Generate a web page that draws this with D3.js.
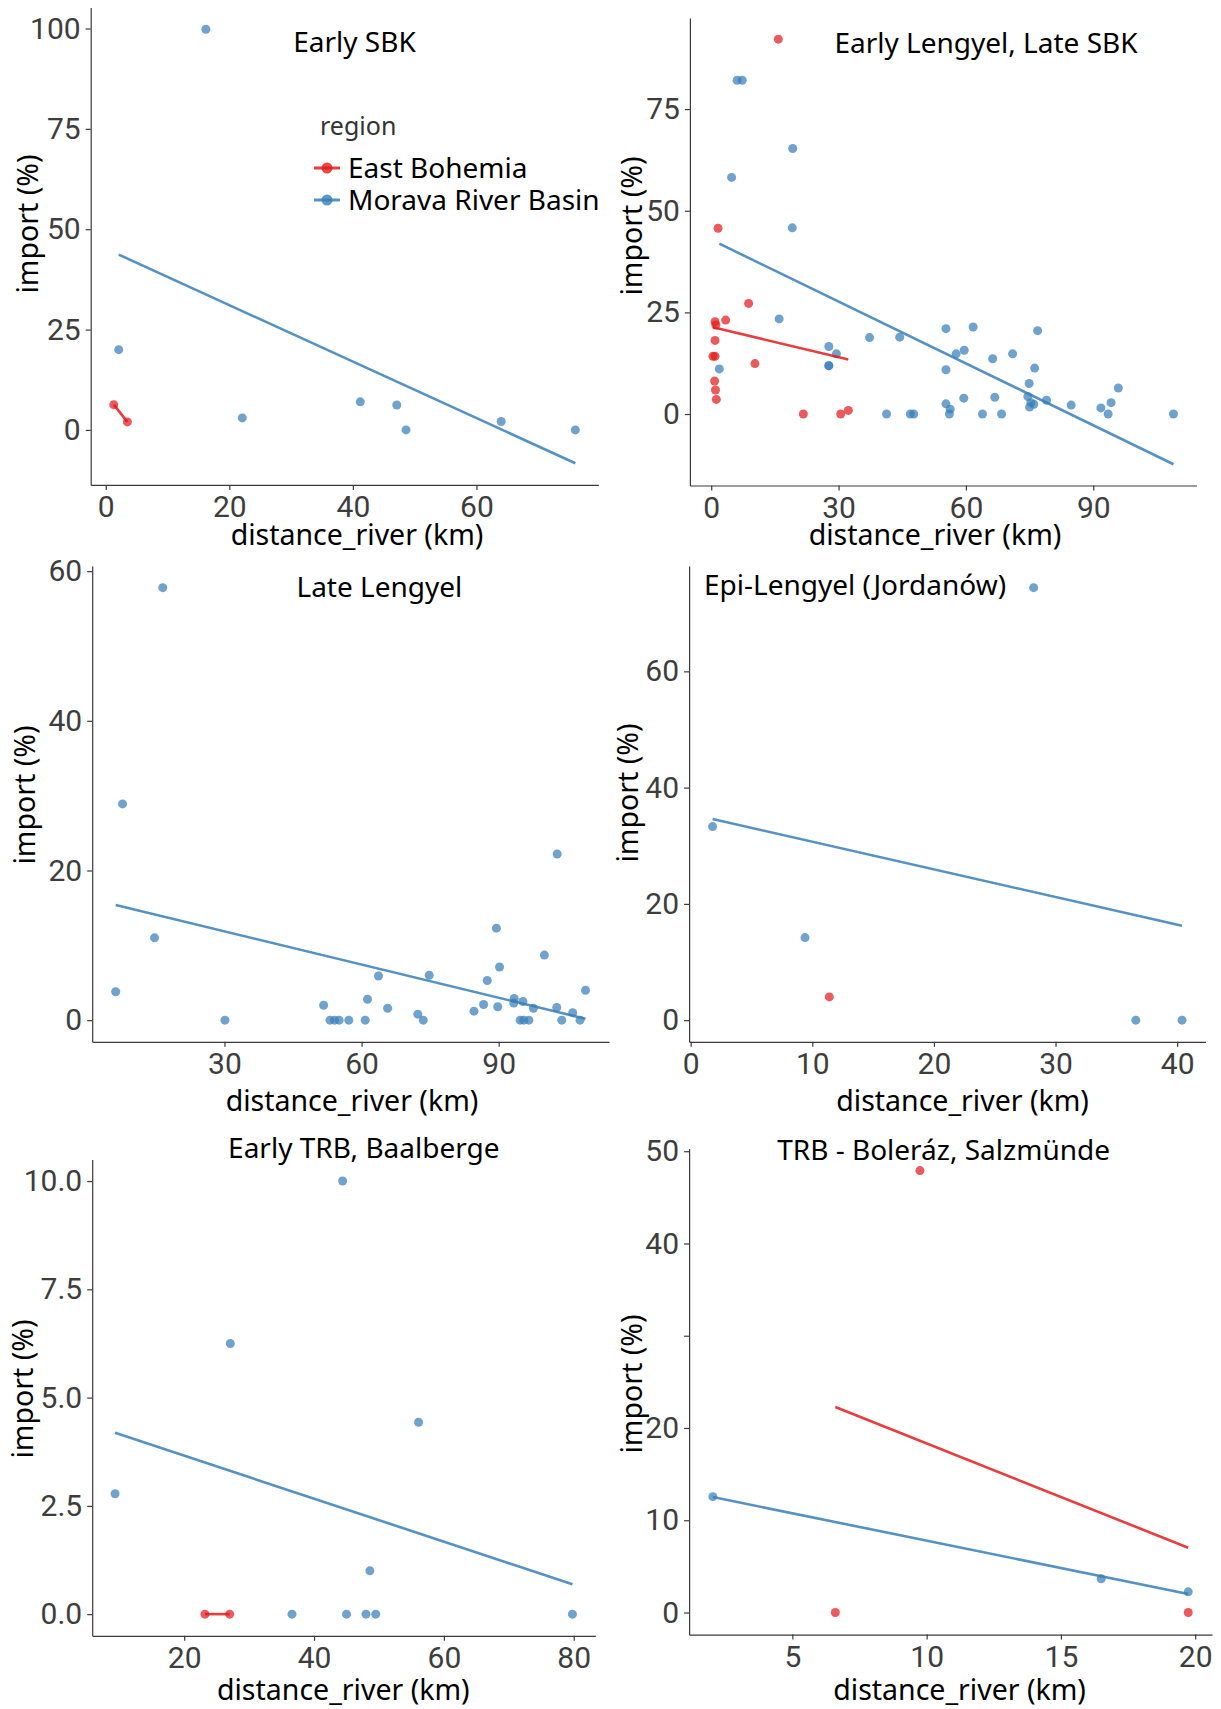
<!DOCTYPE html>
<html>
<head>
<meta charset="utf-8">
<script src="https://cdn.jsdelivr.net/npm/d3@7"></script>
<style>
  body { margin: 0; background: #fff; }
  svg { display: block; }
</style>
</head>
<body>
<div id="chart"></div>
<script>
const regions = ["East Bohemia", "Morava River Basin"];
const regionColors = ["#e41a1c", "#377eb8"];

const panelTitles = [
  "Early SBK",
  "Early Lengyel, Late SBK",
  "Late Lengyel",
  "Epi-Lengyel (Jordanów)",
  "Early TRB, Baalberge",
  "TRB - Boleráz, Salzmünde"
];

// points as [distance_river (km), import (%)]
const earlySBK_east = [[1.3, 6.3], [3.5, 2.0]];
const earlySBK_morava = [[16.2, 99.8], [2.1, 20.0], [22.1, 3.0], [41.2, 7.0], [47.1, 6.2], [48.6, 0], [64.0, 2.1], [76.0, 0]];

const earlyLengyel_east = [[15.8, 92.2], [1.6, 45.7], [8.8, 27.2], [3.4, 23.1], [0.9, 22.7], [1.1, 21.9], [0.9, 18.1],
  [0.4, 14.2], [0.9, 14.2], [10.3, 12.4], [0.8, 8.1], [1.0, 5.9], [1.2, 3.6], [21.7, 0], [30.5, 0], [32.3, 0.9]];
const earlyLengyel_morava = [[6.1, 82.1], [7.3, 82.1], [19.2, 65.3], [4.8, 58.2], [19.1, 45.8], [16.0, 23.4], [1.9, 11.1],
  [27.7, 16.6], [29.5, 14.8], [27.7, 11.9], [27.7, 11.9], [37.3, 18.8], [44.4, 18.9], [41.3, 0], [46.9, 0], [47.7, 0],
  [55.3, 21.0], [61.7, 21.4], [76.9, 20.5], [57.7, 14.8], [59.6, 15.7], [71.0, 14.8], [66.3, 13.6], [55.3, 10.9],
  [76.2, 11.3], [74.9, 7.5], [95.9, 6.4], [55.3, 2.5], [56.3, 1.2], [56.1, 0], [59.5, 3.9], [63.9, 0], [66.8, 4.1],
  [68.4, 0], [74.6, 4.3], [75.3, 2.8], [75.0, 1.7], [76.0, 2.4], [79.0, 3.4], [84.8, 2.2], [91.8, 1.5], [93.5, 0],
  [94.2, 2.8], [108.9, 0]];

const lateLengyel_east = [];
const lateLengyel_morava = [[16.5, 57.8], [7.7, 28.9], [14.7, 11.0], [6.2, 3.8], [30.1, 0], [51.7, 2.0], [53.1, 0],
  [54.1, 0], [55.1, 0], [57.2, 0], [60.8, 0], [61.3, 2.8], [63.7, 5.9], [65.7, 1.6], [72.3, 0.8], [73.5, 0],
  [74.8, 6.0], [84.6, 1.2], [86.7, 2.1], [87.5, 5.3], [89.5, 12.3], [90.2, 7.1], [89.8, 1.8], [93.4, 2.9],
  [93.3, 2.3], [95.3, 2.5], [94.7, 0], [95.5, 0], [96.6, 0], [97.6, 1.6], [100.0, 8.7], [102.7, 1.7], [102.8, 22.2],
  [103.8, 0], [106.2, 1.0], [107.8, 0], [109.0, 4.0]];

const epiLengyel_east = [[11.4, 4.0]];
const epiLengyel_morava = [[28.2, 74.4], [1.8, 33.3], [9.4, 14.2], [36.6, 0], [40.4, 0]];

const earlyTRB_east = [[23.2, 0], [27.0, 0]];
const earlyTRB_morava = [[44.4, 10.0], [27.1, 6.25], [9.35, 2.78], [56.1, 4.43], [48.6, 1.0], [36.6, 0], [45.0, 0],
  [48.0, 0], [49.5, 0], [79.8, 0]];

const trbBoleraz_east = [[6.6, 0], [9.75, 47.9], [19.74, 0]];
const trbBoleraz_morava = [[2.04, 12.56], [16.5, 3.66], [19.74, 2.24]];

const xTicks = [[0, 20, 40, 60], [0, 30, 60, 90], [30, 60, 90], [0, 10, 20, 30, 40], [20, 40, 60, 80], [5, 10, 15, 20]];
const yTicks = [[0, 25, 50, 75, 100], [0, 25, 50, 75], [0, 20, 40, 60], [0, 20, 40, 60], [0, 2.5, 5, 7.5, 10], [0, 10, 20, 30, 40, 50]];
const yTickLabels = [
  ["0", "25", "50", "75", "100"],
  ["0", "25", "50", "75"],
  ["0", "20", "40", "60"],
  ["0", "20", "40", "60"],
  ["0.0", "2.5", "5.0", "7.5", "10.0"],
  ["0", "10", "20", "", "40", "50"]
];

const panelData = [
  [earlySBK_east, earlySBK_morava],
  [earlyLengyel_east, earlyLengyel_morava],
  [lateLengyel_east, lateLengyel_morava],
  [epiLengyel_east, epiLengyel_morava],
  [earlyTRB_east, earlyTRB_morava],
  [trbBoleraz_east, trbBoleraz_morava]
];

// panel frames and label positions on the page
const frames = [
  { left: 90.7, right: 598.4, top: 7.6, bottom: 484.9, titleX: 354.5, titleY: 52, xLabX: 357, xLabY: 535, yLabX: 28, yLabY: 224 },
  { left: 689.9, right: 1196.5, top: 17.9, bottom: 485.5, titleX: 986, titleY: 53, xLabX: 935, xLabY: 535, yLabX: 632, yLabY: 226 },
  { left: 92.2, right: 609, top: 566, bottom: 1041.8, titleX: 379.4, titleY: 597, xLabX: 352, xLabY: 1101, yLabX: 25, yLabY: 795 },
  { left: 689.1, right: 1205.5, top: 566, bottom: 1041.8, titleX: 855, titleY: 594.6, xLabX: 962.6, xLabY: 1101, yLabX: 628, yLabY: 793 },
  { left: 92.2, right: 595.3, top: 1159.4, bottom: 1635.8, titleX: 363.8, titleY: 1158, xLabX: 343.3, xLabY: 1690, yLabX: 23, yLabY: 1389 },
  { left: 689.1, right: 1212, top: 1148.5, bottom: 1634.6, titleX: 943.6, titleY: 1159.5, xLabX: 959.6, xLabY: 1690, yLabX: 632, yLabY: 1384 }
];

const textFont = "'Noto Sans', 'Open Sans', sans-serif";
const tickFont = "Roboto, 'Liberation Sans', sans-serif";

// least squares line, like geom_smooth(method = "lm", se = FALSE)
function linearFit(pts) {
  if (pts.length < 2) return null;
  const mx = d3.mean(pts, function(p) { return p[0]; });
  const my = d3.mean(pts, function(p) { return p[1]; });
  let sxx = 0, sxy = 0;
  pts.forEach(function(p) {
    sxx += (p[0] - mx) * (p[0] - mx);
    sxy += (p[0] - mx) * (p[1] - my);
  });
  const slope = sxx === 0 ? 0 : sxy / sxx;
  const ext = d3.extent(pts, function(p) { return p[0]; });
  return ext.map(function(x) { return [x, my + slope * (x - mx)]; });
}

function expand(ext) {
  const pad = (ext[1] - ext[0]) * 0.05;
  return [ext[0] - pad, ext[1] + pad];
}

const svg = d3.select("#chart")
  .append("svg")
  .attr("width", 1221)
  .attr("height", 1709);

panelData.forEach(function(groups, i) {
  const f = frames[i];
  const fits = groups.map(linearFit);

  const allPts = [].concat.apply([], groups);
  fits.forEach(function(fl) { if (fl) allPts.push(fl[0], fl[1]); });

  const x = d3.scaleLinear()
    .domain(expand(d3.extent(allPts, function(p) { return p[0]; })))
    .range([f.left, f.right]);
  const y = d3.scaleLinear()
    .domain(expand(d3.extent(allPts, function(p) { return p[1]; })))
    .range([f.bottom, f.top]);

  const g = svg.append("g");

  const xAxis = d3.axisBottom(x)
    .tickValues(xTicks[i])
    .tickSize(5)
    .tickSizeOuter(0)
    .tickPadding(6)
    .tickFormat(d3.format("d"));
  const yAxis = d3.axisLeft(y)
    .tickValues(yTicks[i])
    .tickSize(5)
    .tickSizeOuter(0)
    .tickPadding(5)
    .tickFormat(function(d, j) { return yTickLabels[i][j]; });

  const gx = g.append("g")
    .attr("transform", "translate(0," + f.bottom + ")")
    .call(xAxis);
  const gy = g.append("g")
    .attr("transform", "translate(" + f.left + ",0)")
    .call(yAxis);

  [gx, gy].forEach(function(ax) {
    ax.select(".domain").attr("stroke", "#3a3a3a").attr("stroke-width", 1.2);
    ax.selectAll(".tick line").attr("stroke", "#3a3a3a").attr("stroke-width", 1.2);
    ax.selectAll(".tick text")
      .attr("fill", "#3d3d3d")
      .style("font-family", tickFont)
      .style("font-size", "30px");
  });

  // points
  groups.forEach(function(pts, r) {
    g.append("g")
      .selectAll("circle")
      .data(pts)
      .enter()
      .append("circle")
      .attr("cx", function(d) { return x(d[0]); })
      .attr("cy", function(d) { return y(d[1]); })
      .attr("r", 4.5)
      .style("fill", regionColors[r])
      .style("fill-opacity", 0.72);
  });

  // fitted lines
  const line = d3.line()
    .x(function(d) { return x(d[0]); })
    .y(function(d) { return y(d[1]); });
  fits.forEach(function(fl, r) {
    if (!fl) return;
    g.append("path")
      .attr("d", line(fl))
      .attr("fill", "none")
      .attr("stroke", regionColors[r])
      .attr("stroke-opacity", 0.85)
      .attr("stroke-width", 2.6);
  });

  g.append("text")
    .attr("x", f.titleX)
    .attr("y", f.titleY)
    .style("text-anchor", "middle")
    .style("font-family", textFont)
    .style("font-size", "28px")
    .style("fill", "#000")
    .text(panelTitles[i]);

  g.append("text")
    .attr("x", f.xLabX)
    .attr("y", f.xLabY)
    .attr("dy", "0.35em")
    .style("text-anchor", "middle")
    .style("font-family", textFont)
    .style("font-size", "28.5px")
    .style("fill", "#000")
    .text("distance_river (km)");

  g.append("text")
    .attr("transform", "translate(" + f.yLabX + "," + f.yLabY + ") rotate(-90)")
    .attr("dy", "0.35em")
    .style("text-anchor", "middle")
    .style("font-family", textFont)
    .style("font-size", "28.5px")
    .style("fill", "#000")
    .text("import (%)");
});

// legend (drawn inside the first panel)
const legend = svg.append("g").attr("transform", "translate(314,0)");
legend.append("text")
  .attr("x", 6)
  .attr("y", 135)
  .style("font-family", textFont)
  .style("font-size", "25px")
  .style("fill", "#333")
  .text("region");

const legendItems = legend.selectAll(".item")
  .data(regions)
  .enter()
  .append("g")
  .attr("class", "item")
  .attr("transform", function(d, i) { return "translate(0," + (168 + i * 32) + ")"; });
legendItems.append("line")
  .attr("x1", 0).attr("x2", 26)
  .attr("stroke", function(d, i) { return regionColors[i]; })
  .attr("stroke-opacity", 0.85)
  .attr("stroke-width", 3);
legendItems.append("circle")
  .attr("cx", 13)
  .attr("r", 5.5)
  .style("fill", function(d, i) { return regionColors[i]; })
  .style("fill-opacity", 0.8);
legendItems.append("text")
  .attr("x", 34)
  .attr("dy", "0.36em")
  .style("font-family", textFont)
  .style("font-size", "28px")
  .style("fill", "#000")
  .text(function(d) { return d; });
</script>
</body>
</html>
